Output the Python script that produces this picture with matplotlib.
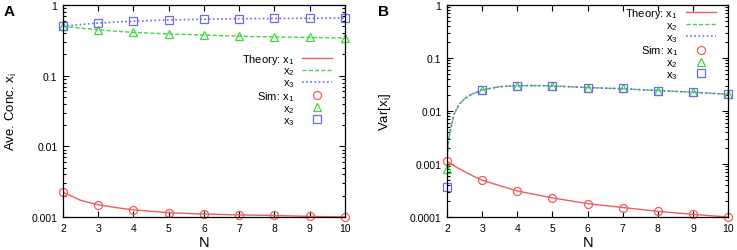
import matplotlib
matplotlib.use("Agg")
import matplotlib.pyplot as plt
from matplotlib.ticker import LogLocator, NullFormatter, FixedLocator

plt.rcParams['font.family'] = ['Liberation Sans', 'DejaVu Sans']
plt.rcParams['mathtext.fontset'] = 'custom'
plt.rcParams['mathtext.rm'] = 'Liberation Sans'
plt.rcParams['mathtext.it'] = 'Liberation Sans:italic'

# ---------------- data ----------------
N_sim = [2, 3, 4, 5, 6, 7, 8, 9, 10]

# Panel A: average concentrations
A_sim_x1 = [0.00224, 0.00149, 0.00126, 0.00115, 0.00110, 0.00107, 0.00105, 0.00102, 0.00100]
A_sim_x2 = [0.50, 0.447, 0.41, 0.39, 0.377, 0.362, 0.353, 0.348, 0.340]
A_sim_x3 = [0.50, 0.556, 0.59, 0.615, 0.630, 0.640, 0.645, 0.650, 0.655]

N_thA = [2, 2.5, 3, 3.5, 4, 5, 6, 7, 8, 9, 10]
A_th_x1 = [0.00224, 0.00172, 0.00149, 0.00136, 0.00126, 0.00115, 0.00110, 0.00107, 0.00105, 0.00102, 0.00100]
A_th_x2 = [0.50, 0.470, 0.447, 0.425, 0.410, 0.390, 0.377, 0.362, 0.353, 0.348, 0.340]
A_th_x3 = [0.50, 0.530, 0.556, 0.575, 0.590, 0.615, 0.630, 0.640, 0.645, 0.650, 0.655]

# Panel B: variances
B_sim_x1 = [0.00112, 0.000496, 0.00031, 0.000229, 0.000179, 0.000151, 0.000128, 0.000112, 0.000100]
B_sim_x2 = [0.00079, 0.0250, 0.0300, 0.0297, 0.0277, 0.0266, 0.0243, 0.0226, 0.0207]
B_sim_x3 = [0.00037, 0.0250, 0.0300, 0.0297, 0.0277, 0.0266, 0.0243, 0.0226, 0.0207]

N_thB1 = [2, 2.25, 2.5, 2.75, 3, 3.5, 4, 5, 6, 7, 8, 9, 10]
B_th_x1 = [0.00112, 0.00088, 0.00072, 0.00059, 0.000496, 0.00039, 0.00031, 0.000229,
           0.000179, 0.000151, 0.000128, 0.000112, 0.000100]
N_thB23 = [2.0, 2.02, 2.05, 2.1, 2.2, 2.35, 2.5, 2.7, 3.0, 3.5, 4, 4.5, 5, 6, 7, 8, 9, 10]
B_th_x2 = [0.0010, 0.0019, 0.0029, 0.0045, 0.0087, 0.0134, 0.0170, 0.0207, 0.0250, 0.0288,
           0.0300, 0.0302, 0.0297, 0.0277, 0.0263, 0.0243, 0.0226, 0.0207]
B_th_x3 = [0.0010, 0.0019, 0.0029, 0.0045, 0.0087, 0.0134, 0.0170, 0.0207, 0.0250, 0.0288,
           0.0300, 0.0302, 0.0297, 0.0277, 0.0263, 0.0243, 0.0226, 0.0207]

labels = ["Theory: x$_\\mathrm{1}$", "x$_\\mathrm{2}$", "x$_\\mathrm{3}$",
          "Sim: x$_\\mathrm{1}$", "x$_\\mathrm{2}$", "x$_\\mathrm{3}$"]
x_ticks = [2, 3, 4, 5, 6, 7, 8, 9, 10]

# ---------------- style ----------------
RED = '#f25c5c'
GREEN = '#3fd83f'
BLUE = '#6b6bf0'

fig = plt.figure(figsize=(7.37, 2.51), dpi=100)
axA = fig.add_axes([0.0855, 0.1315, 0.3825, 0.8445])
axB = fig.add_axes([0.6065, 0.1315, 0.3815, 0.8445])


def draw(ax, nth1, t1, nth23, t2, t3, s1, s2, s3, ylim, yticks, yticklabels, ylabel, legend_anchor, ylabelpad):
    ax.plot(nth1, t1, color=RED, lw=1.0, ls='-', label=labels[0])
    ax.plot(nth23, t2, color=GREEN, lw=1.0, ls=(0, (3, 1.5)), label=labels[1])
    ax.plot(nth23, t3, color=BLUE, lw=1.2, ls=(0, (1, 1.5)), label=labels[2])
    ax.plot(N_sim, s1, ls='none', marker='o', ms=5.8, mfc='none', mec=RED, mew=0.9,
            clip_on=False, label=labels[3])
    ax.plot(N_sim, s2, ls='none', marker='^', ms=5.8, mfc='none', mec=GREEN, mew=0.9,
            clip_on=False, label=labels[4])
    ax.plot(N_sim, s3, ls='none', marker='s', ms=5.8, mfc='none', mec=BLUE, mew=0.9,
            clip_on=False, label=labels[5])
    ax.set_yscale('log')
    ax.set_xlim(2, 10)
    ax.set_ylim(*ylim)
    ax.xaxis.set_major_locator(FixedLocator(x_ticks))
    ax.set_xticklabels([str(v) for v in x_ticks])
    ax.set_yticks(yticks)
    ax.set_yticklabels(yticklabels)
    ax.yaxis.set_minor_locator(LogLocator(base=10, subs=range(2, 10), numticks=20))
    ax.yaxis.set_minor_formatter(NullFormatter())
    ax.tick_params(which='both', direction='in', top=True, right=True, labelsize=7.5,
                   width=0.8, colors='black')
    ax.tick_params(which='major', length=4.5, pad=4)
    ax.tick_params(which='minor', length=2.5)
    for sp in ax.spines.values():
        sp.set_linewidth(0.9)
    ax.set_xlabel('N', fontsize=10.5, labelpad=2)
    ax.set_ylabel(ylabel, fontsize=9.5, labelpad=ylabelpad)
    leg = ax.legend(loc='upper right', bbox_to_anchor=legend_anchor, frameon=False,
                    markerfirst=False, fontsize=8, handlelength=2.7, handletextpad=0.7,
                    labelspacing=0.0, borderpad=0, borderaxespad=0)
    return leg


draw(axA, N_thA, A_th_x1, N_thA, A_th_x2, A_th_x3, A_sim_x1, A_sim_x2, A_sim_x3,
     (0.001, 1), [0.001, 0.01, 0.1, 1], ['0.001', '0.01', '0.1', '1'],
     'Ave. Conc. x$_\\mathrm{i}$', (0.955, 0.78), 9)
draw(axB, N_thB1, B_th_x1, N_thB23, B_th_x2, B_th_x3, B_sim_x1, B_sim_x2, B_sim_x3,
     (0.0001, 1), [0.0001, 0.001, 0.01, 0.1, 1], ['0.0001', '0.001', '0.01', '0.1', '1'],
     'Var[x$_\\mathrm{i}$]', (0.955, 0.995), 12)

fig.text(0.005, 0.98, 'A', fontsize=11, fontweight='bold', va='top', ha='left')
fig.text(0.513, 0.98, 'B', fontsize=11, fontweight='bold', va='top', ha='left')

fig.savefig('out.png', dpi=100)
